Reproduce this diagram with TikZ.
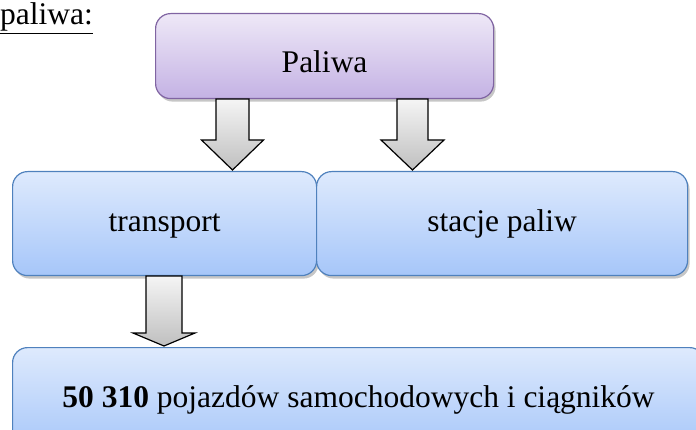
\documentclass[tikz,border=0pt]{standalone}
\usepackage{fontspec}
\setmainfont{Liberation Serif}
\usetikzlibrary{shadows}

\definecolor{purpletop}{RGB}{238,232,247}
\definecolor{purplebot}{RGB}{196,178,228}
\definecolor{purpleline}{RGB}{128,100,162}
\definecolor{bluetop}{RGB}{222,234,253}
\definecolor{bluebot}{RGB}{166,198,249}
\definecolor{blueline}{RGB}{79,129,189}

\tikzset{
  box/.style={draw,line width=1.2pt,rounded corners=15pt,anchor=north west,
    inner sep=0pt,text height=22pt,text depth=6pt,font=\fontsize{31.5}{36}\selectfont,
    drop shadow={opacity=0.45,shadow xshift=2pt,shadow yshift=-3pt}},
  purplebox/.style={box,draw=purpleline,top color=purpletop,bottom color=purplebot},
  bluebox/.style={box,draw=blueline,top color=bluetop,bottom color=bluebot},
  fatarrow/.style={draw=black,line width=1.2pt,top color=gray!8,bottom color=gray!50}
}

% block arrow: x, top y, neck y, tip y, half shaft, half head
\newcommand{\fatarrowat}[6]{%
  \path[fatarrow] (#1-#5,#2) -- (#1+#5,#2) -- (#1+#5,#3) -- (#1+#6,#3)
    -- (#1,#4) -- (#1-#6,#3) -- (#1-#5,#3) -- cycle;}

\begin{document}
\begin{tikzpicture}[x=1pt,y=1pt]
\useasboundingbox (0,0) rectangle (696,-430);
% heading:
\node[anchor=base west,inner sep=0pt,font=\fontsize{31.5}{36}\selectfont] (head) at (0,-25) {\underline{paliwa:}};
% boxes:
\node[purplebox,minimum width=338pt,minimum height=85pt,text height=39pt] (paliwa) at (155,-13) {Paliwa};
\node[bluebox,minimum width=304pt,minimum height=104pt] (transport) at (12,-171) {transport};
\node[bluebox,minimum width=371pt,minimum height=104pt] (stacje) at (316,-171) {stacje paliw};
\node[bluebox,minimum width=692pt,minimum height=104pt] (pojazdy) at (12,-347)
  {\textbf{50 310} pojazdów samochodowych i ciągników};
% arrows:
\fatarrowat{232.5}{-99}{-140}{-170}{16.5}{31}
\fatarrowat{412.5}{-99}{-140}{-170}{15.5}{31.5}
\fatarrowat{164}{-276}{-333}{-346}{18}{31}
\end{tikzpicture}
\end{document}
